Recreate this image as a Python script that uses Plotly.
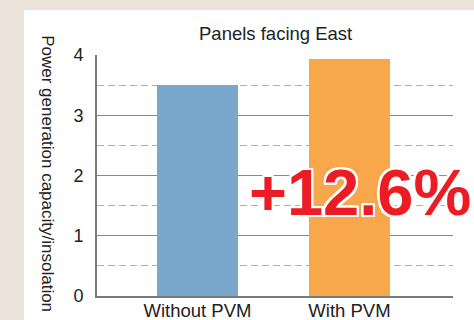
import plotly.graph_objects as go

categories = ["Without PVM", "With PVM"]
values = [3.5, 3.94]
bar_colors = ["#7aa8cc", "#f9a74b"]
y_ticks = [0, 1, 2, 3, 4]
title_text = "Panels facing East"
y_title = "Power generation capacity/insolation"
gain_label = "+12.6%"

FONT = "Arial, Liberation Sans, sans-serif"
x_pos = list(range(len(categories)))

fig = go.Figure()
fig.add_trace(go.Bar(
    x=x_pos, y=values, marker=dict(color=bar_colors, line=dict(width=0)),
    width=0.53, hoverinfo="skip"))

outline = ",".join(f"{dx}px {dy}px 0 #fff" for dx, dy in
                   [(2, 0), (-2, 0), (0, 2), (0, -2), (2, 2), (-2, -2), (2, -2), (-2, 2),
                    (1, 2), (2, 1), (-1, 2), (-2, 1), (1, -2), (2, -1), (-1, -2), (-2, -1)])

fig.update_layout(
    width=474, height=320,
    margin=dict(l=97, r=21, t=55, b=24, autoexpand=False),
    paper_bgcolor="#ebe3d9",
    plot_bgcolor="rgba(0,0,0,0)",
    showlegend=False,
    bargap=0,
    xaxis=dict(
        range=[-0.661, 1.681], tickvals=x_pos, ticktext=categories, automargin=False,
        showgrid=False, zeroline=False, showline=True, linecolor="#7a7a7a", linewidth=2,
        ticks="", tickfont=dict(family=FONT, size=18.5, color="#222"), ticklabelstandoff=-3,
        fixedrange=True),
    yaxis=dict(
        range=[0, 4], tickvals=y_ticks, showgrid=True, gridcolor="#8a8a8a", gridwidth=1,
        automargin=False,
        zeroline=False, showline=True, linecolor="#7a7a7a", linewidth=2, ticks="",
        tickfont=dict(family=FONT, size=18, color="#222"), ticklabelstandoff=8,
        minor=dict(dtick=0.5, tick0=0, showgrid=True, gridcolor="#b0b0b0", gridwidth=1,
                   griddash="7px,4px"),
        fixedrange=True),
    shapes=[dict(type="rect", xref="paper", yref="paper", x0=-0.205, x1=1.2, y0=-0.2, y1=1.187,
                 fillcolor="white", line=dict(width=0), layer="below")],
    annotations=[
        dict(text=title_text, xref="paper", yref="paper", x=0.5, y=1.091, showarrow=False,
             xanchor="center", yanchor="middle", font=dict(family=FONT, size=18.5, color="#222")),
        dict(text=y_title, xref="paper", yref="paper", x=-0.138, y=0.506, showarrow=False,
             textangle=90, xanchor="center", yanchor="middle",
             font=dict(family=FONT, size=17, color="#222")),
        dict(text=f"<b>{gain_label}</b>", xref="paper", yref="paper", x=0.739, y=0.43,
             showarrow=False, xanchor="center", yanchor="middle",
             font=dict(family=FONT, size=65, color="#ec1c24", shadow=outline)),
    ],
)

fig.write_html("out.html", config={"displayModeBar": False})
